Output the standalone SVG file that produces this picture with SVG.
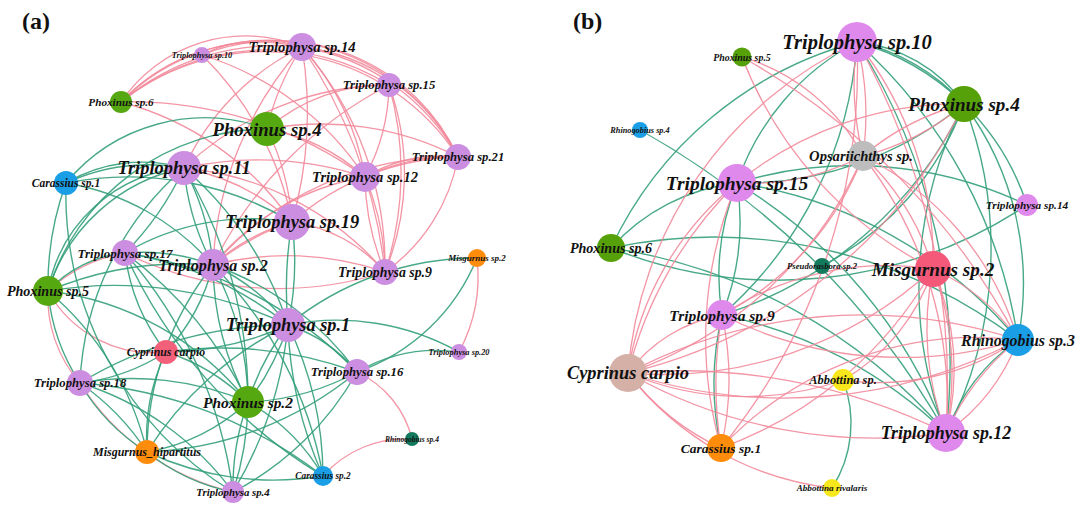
<svg xmlns="http://www.w3.org/2000/svg" width="1080" height="508" viewBox="0 0 1080 508">
<style>
.bg{fill:#fff}
.p{fill:none;stroke:#f28a9b;stroke-width:1.3;opacity:0.9}
.g{fill:none;stroke:#34a07a;stroke-width:1.4;opacity:0.9}
.lbl{font-family:"Liberation Serif","Times New Roman",serif;font-weight:bold;font-style:italic;fill:#111;text-anchor:middle;dominant-baseline:central}
.title{font-family:"Liberation Serif","Times New Roman",serif;font-weight:bold;font-size:24px;fill:#111}
.pu{fill:#cc8ee0}.gr{fill:#56a810}.bl{fill:#1a9ee6}.or{fill:#ff8c0a}.rd{fill:#f2607a}.tl{fill:#137a5e}
.pu2{fill:#e089ec}.gy{fill:#bdbdbd}.rd2{fill:#f5597a}.br{fill:#d4b0a6}.ye{fill:#f7e71b}.gr2{fill:#56a00a}
</style>
<rect class="bg" width="1080" height="508"/>
<text class="title" x="22" y="29">(a)</text>
<text class="title" x="573" y="29">(b)</text>
<g id="connectors-a">
<path class="p" d="M121,102 A150 150 0 0 1 302,47"/>
<path class="p" d="M121,102 A190 190 0 0 1 302,47"/>
<path class="p" d="M121,102 A240 240 0 0 1 302,47"/>
<path class="p" d="M121,102 A230 230 0 0 1 389,85"/>
<path class="p" d="M121,102 A210 210 0 0 1 458,157"/>
<path class="p" d="M121,102 A230 230 0 0 1 458,157"/>
<path class="p" d="M121,102 A400 400 0 0 1 365,177"/>
<path class="p" d="M121,102 A300 300 0 0 1 292,222"/>
<path class="p" d="M202,55 A130 130 0 0 1 302,47"/>
<path class="p" d="M202,55 A200 200 0 0 1 458,157"/>
<path class="p" d="M202,55 A320 320 0 0 1 292,222"/>
<path class="p" d="M202,55 A300 300 0 0 1 365,177"/>
<path class="p" d="M302,47 A200 200 0 0 1 458,157"/>
<path class="p" d="M302,47 A220 220 0 0 1 458,157"/>
<path class="p" d="M302,47 A260 260 0 0 1 365,177"/>
<path class="p" d="M302,47 A400 400 0 0 1 292,222"/>
<path class="p" d="M302,47 A330 330 0 0 1 385,272"/>
<path class="p" d="M302,47 A500 500 0 0 1 385,272"/>
<path class="p" d="M184,168 A250 250 0 0 1 302,47"/>
<path class="p" d="M267,129 A250 250 0 0 1 302,47"/>
<path class="p" d="M389,85 A200 200 0 0 1 365,177"/>
<path class="p" d="M389,85 A260 260 0 0 1 385,272"/>
<path class="p" d="M389,85 A320 320 0 0 1 385,272"/>
<path class="p" d="M184,168 A300 300 0 0 1 389,85"/>
<path class="p" d="M267,129 A180 180 0 0 1 389,85"/>
<path class="p" d="M365,177 A150 150 0 0 1 458,157"/>
<path class="p" d="M365,177 A200 200 0 0 1 458,157"/>
<path class="p" d="M292,222 A260 260 0 0 1 458,157"/>
<path class="p" d="M213,265 A320 320 0 0 1 458,157"/>
<path class="p" d="M267,129 A300 300 0 0 1 458,157"/>
<path class="p" d="M458,157 A180 180 0 0 1 385,272"/>
<path class="p" d="M184,168 A220 220 0 0 1 292,222"/>
<path class="p" d="M184,168 A350 350 0 0 1 365,177"/>
<path class="p" d="M385,272 A350 350 0 0 1 125,253"/>
<path class="p" d="M213,265 A300 300 0 0 1 385,272"/>
<path class="p" d="M292,222 A150 150 0 0 1 385,272"/>
<path class="p" d="M365,177 A250 250 0 0 1 385,272"/>
<path class="p" d="M385,272 A250 250 0 0 1 365,177"/>
<path class="p" d="M213,265 A250 250 0 0 1 365,177"/>
<path class="p" d="M213,265 A200 200 0 0 1 292,222"/>
<path class="p" d="M213,265 A260 260 0 0 1 292,222"/>
<path class="p" d="M213,265 A400 400 0 0 1 389,85"/>
<path class="p" d="M213,265 A350 350 0 0 1 302,47"/>
<path class="p" d="M267,129 A200 200 0 0 1 365,177"/>
<path class="p" d="M267,129 A250 250 0 0 1 292,222"/>
<path class="p" d="M184,168 A300 300 0 0 1 385,272"/>
<path class="p" d="M48,291 A150 150 0 0 1 125,253"/>
<path class="p" d="M166,352 A120 120 0 0 1 48,291"/>
<path class="p" d="M80,383 A130 130 0 0 1 48,291"/>
<path class="p" d="M233,492 A250 250 0 0 1 80,383"/>
<path class="p" d="M477,258 A160 160 0 0 1 459,352"/>
<path class="p" d="M357,372 A100 100 0 0 1 412,439"/>
<path class="p" d="M323,476 A110 110 0 0 1 412,439"/>
<path class="g" d="M66,183 A180 180 0 0 1 267,129"/>
<path class="g" d="M66,183 A200 200 0 0 1 184,168"/>
<path class="g" d="M66,183 A150 150 0 0 1 184,168"/>
<path class="g" d="M66,183 A250 250 0 0 1 213,265"/>
<path class="g" d="M66,183 A320 320 0 0 1 292,222"/>
<path class="g" d="M48,291 A300 300 0 0 1 66,183"/>
<path class="g" d="M233,492 A350 350 0 0 1 66,183"/>
<path class="g" d="M48,291 A150 150 0 0 1 184,168"/>
<path class="g" d="M48,291 A180 180 0 0 1 184,168"/>
<path class="g" d="M48,291 A230 230 0 0 1 267,129"/>
<path class="g" d="M184,168 A300 300 0 0 1 125,253"/>
<path class="g" d="M184,168 A250 250 0 0 1 213,265"/>
<path class="g" d="M213,265 A250 250 0 0 1 184,168"/>
<path class="g" d="M184,168 A350 350 0 0 1 288,325"/>
<path class="g" d="M184,168 A450 450 0 0 1 248,402"/>
<path class="g" d="M80,383 A300 300 0 0 1 184,168"/>
<path class="g" d="M48,291 A120 120 0 0 1 125,253"/>
<path class="g" d="M125,253 A200 200 0 0 1 213,265"/>
<path class="g" d="M125,253 A350 350 0 0 1 288,325"/>
<path class="g" d="M166,352 A200 200 0 0 1 125,253"/>
<path class="g" d="M125,253 A400 400 0 0 1 248,402"/>
<path class="g" d="M125,253 A450 450 0 0 1 233,492"/>
<path class="g" d="M125,253 A400 400 0 0 1 357,372"/>
<path class="g" d="M125,253 A250 250 0 0 1 292,222"/>
<path class="g" d="M48,291 A400 400 0 0 1 288,325"/>
<path class="g" d="M48,291 A350 350 0 0 1 213,265"/>
<path class="g" d="M48,291 A300 300 0 0 1 248,402"/>
<path class="g" d="M80,383 A200 200 0 0 1 48,291"/>
<path class="g" d="M48,291 A300 300 0 0 1 147,452"/>
<path class="g" d="M213,265 A200 200 0 0 1 288,325"/>
<path class="g" d="M213,265 A300 300 0 0 1 248,402"/>
<path class="g" d="M248,402 A300 300 0 0 1 213,265"/>
<path class="g" d="M213,265 A200 200 0 0 1 166,352"/>
<path class="g" d="M213,265 A300 300 0 0 1 357,372"/>
<path class="g" d="M147,452 A300 300 0 0 1 213,265"/>
<path class="g" d="M213,265 A400 400 0 0 1 323,476"/>
<path class="g" d="M292,222 A300 300 0 0 1 288,325"/>
<path class="g" d="M288,325 A400 400 0 0 1 292,222"/>
<path class="g" d="M288,325 A300 300 0 0 1 477,258"/>
<path class="g" d="M288,325 A250 250 0 0 1 459,352"/>
<path class="g" d="M288,325 A250 250 0 0 1 248,402"/>
<path class="g" d="M248,402 A250 250 0 0 1 288,325"/>
<path class="g" d="M288,325 A150 150 0 0 1 357,372"/>
<path class="g" d="M288,325 A400 400 0 0 1 233,492"/>
<path class="g" d="M288,325 A350 350 0 0 1 323,476"/>
<path class="g" d="M323,476 A400 400 0 0 1 288,325"/>
<path class="g" d="M288,325 A300 300 0 0 1 166,352"/>
<path class="g" d="M80,383 A400 400 0 0 1 288,325"/>
<path class="g" d="M147,452 A350 350 0 0 1 288,325"/>
<path class="g" d="M357,372 A160 160 0 0 1 459,352"/>
<path class="g" d="M477,258 A200 200 0 0 1 357,372"/>
<path class="g" d="M357,372 A250 250 0 0 1 248,402"/>
<path class="g" d="M357,372 A350 350 0 0 1 147,452"/>
<path class="g" d="M357,372 A300 300 0 0 1 233,492"/>
<path class="g" d="M166,352 A400 400 0 0 1 357,372"/>
<path class="g" d="M248,402 A200 200 0 0 1 147,452"/>
<path class="g" d="M233,492 A250 250 0 0 1 248,402"/>
<path class="g" d="M248,402 A300 300 0 0 1 233,492"/>
<path class="g" d="M248,402 A200 200 0 0 1 323,476"/>
<path class="g" d="M80,383 A300 300 0 0 1 248,402"/>
<path class="g" d="M166,352 A200 200 0 0 1 248,402"/>
<path class="g" d="M147,452 A200 200 0 0 1 80,383"/>
<path class="g" d="M80,383 A250 250 0 0 1 147,452"/>
<path class="g" d="M147,452 A200 200 0 0 1 166,352"/>
<path class="g" d="M233,492 A200 200 0 0 1 147,452"/>
<path class="g" d="M323,476 A300 300 0 0 1 147,452"/>
<path class="g" d="M80,383 A300 300 0 0 1 233,492"/>
<path class="g" d="M80,383 A450 450 0 0 1 323,476"/>
<path class="g" d="M166,352 A200 200 0 0 1 80,383"/>
<path class="g" d="M323,476 A500 500 0 0 1 125,253"/>
</g>
<g id="connectors-b">
<path class="g" d="M611,248 A380 380 0 0 1 857,42"/>
<path class="g" d="M640,130 A800 800 0 0 1 946,433"/>
<path class="g" d="M857,42 A150 150 0 0 1 964,104"/>
<path class="g" d="M857,42 A200 200 0 0 1 964,104"/>
<path class="g" d="M857,42 A250 250 0 0 1 1027,205"/>
<path class="g" d="M737,183 A250 250 0 0 1 857,42"/>
<path class="g" d="M857,42 A400 400 0 0 1 722,315"/>
<path class="g" d="M857,42 A600 600 0 0 1 946,433"/>
<path class="g" d="M857,42 A500 500 0 0 1 1018,340"/>
<path class="g" d="M964,104 A300 300 0 0 1 1018,340"/>
<path class="g" d="M964,104 A400 400 0 0 1 946,433"/>
<path class="g" d="M964,104 A350 350 0 0 1 737,183"/>
<path class="g" d="M964,104 A400 400 0 0 1 722,315"/>
<path class="g" d="M964,104 A300 300 0 0 1 822,266"/>
<path class="g" d="M737,183 A400 400 0 0 1 1027,205"/>
<path class="g" d="M1027,205 A450 450 0 0 1 611,248"/>
<path class="g" d="M611,248 A200 200 0 0 1 737,183"/>
<path class="g" d="M611,248 A500 500 0 0 1 1018,340"/>
<path class="g" d="M611,248 A550 550 0 0 1 946,433"/>
<path class="g" d="M737,183 A250 250 0 0 1 722,315"/>
<path class="g" d="M722,315 A250 250 0 0 1 737,183"/>
<path class="g" d="M721,448 A300 300 0 0 1 722,315"/>
<path class="g" d="M737,183 A500 500 0 0 1 946,433"/>
<path class="g" d="M737,183 A450 450 0 0 1 1018,340"/>
<path class="g" d="M843,380 A120 120 0 0 1 832,488"/>
<path class="g" d="M946,433 A400 400 0 0 1 964,104"/>
<path class="g" d="M946,433 A200 200 0 0 1 1018,340"/>
<path class="g" d="M722,315 A450 450 0 0 1 946,433"/>
<path class="p" d="M933,269 A400 400 0 0 1 742,57"/>
<path class="p" d="M742,57 A200 200 0 0 1 863,156"/>
<path class="p" d="M742,57 A700 700 0 0 1 1018,340"/>
<path class="p" d="M857,42 A300 300 0 0 1 863,156"/>
<path class="p" d="M863,156 A300 300 0 0 1 857,42"/>
<path class="p" d="M628,373 A400 400 0 0 1 857,42"/>
<path class="p" d="M857,42 A350 350 0 0 1 933,269"/>
<path class="p" d="M857,42 A600 600 0 0 1 721,448"/>
<path class="p" d="M857,42 A700 700 0 0 1 946,433"/>
<path class="p" d="M863,156 A250 250 0 0 1 737,183"/>
<path class="p" d="M863,156 A300 300 0 0 1 722,315"/>
<path class="p" d="M863,156 A250 250 0 0 1 933,269"/>
<path class="p" d="M863,156 A400 400 0 0 1 628,373"/>
<path class="p" d="M863,156 A400 400 0 0 1 946,433"/>
<path class="p" d="M863,156 A300 300 0 0 1 1018,340"/>
<path class="p" d="M964,104 A250 250 0 0 1 863,156"/>
<path class="p" d="M863,156 A250 250 0 0 1 964,104"/>
<path class="p" d="M737,183 A350 350 0 0 1 964,104"/>
<path class="p" d="M964,104 A500 500 0 0 1 628,373"/>
<path class="p" d="M933,269 A250 250 0 0 1 946,433"/>
<path class="p" d="M933,269 A300 300 0 0 1 946,433"/>
<path class="p" d="M946,433 A300 300 0 0 1 933,269"/>
<path class="p" d="M933,269 A400 400 0 0 1 628,373"/>
<path class="p" d="M722,315 A300 300 0 0 1 933,269"/>
<path class="p" d="M933,269 A400 400 0 0 1 721,448"/>
<path class="p" d="M933,269 A200 200 0 0 1 843,380"/>
<path class="p" d="M933,269 A200 200 0 0 1 1018,340"/>
<path class="p" d="M1018,340 A200 200 0 0 1 946,433"/>
<path class="p" d="M946,433 A250 250 0 0 1 1018,340"/>
<path class="p" d="M1018,340 A500 500 0 0 1 628,373"/>
<path class="p" d="M628,373 A500 500 0 0 1 1018,340"/>
<path class="p" d="M1018,340 A400 400 0 0 1 722,315"/>
<path class="p" d="M1018,340 A250 250 0 0 1 843,380"/>
<path class="p" d="M721,448 A350 350 0 0 1 1018,340"/>
<path class="p" d="M628,373 A150 150 0 0 1 722,315"/>
<path class="p" d="M721,448 A250 250 0 0 1 628,373"/>
<path class="p" d="M832,488 A300 300 0 0 1 628,373"/>
<path class="p" d="M628,373 A600 600 0 0 1 946,433"/>
<path class="p" d="M946,433 A500 500 0 0 1 628,373"/>
<path class="p" d="M628,373 A300 300 0 0 1 737,183"/>
<path class="p" d="M628,373 A400 400 0 0 1 737,183"/>
<path class="p" d="M722,315 A300 300 0 0 1 721,448"/>
<path class="p" d="M721,448 A400 400 0 0 1 722,315"/>
<path class="p" d="M721,448 A400 400 0 0 1 737,183"/>
<path class="p" d="M843,380 A300 300 0 0 1 628,373"/>
</g>
<g id="a-triplophysa-sp10"><circle class="pu" cx="202" cy="55" r="8"/><text class="lbl" x="202" y="55" font-size="8.3">Triplophysa sp.10</text></g>
<g id="a-triplophysa-sp14"><circle class="pu" cx="302" cy="47" r="14"/><text class="lbl" x="302" y="47" font-size="14.7">Triplophysa sp.14</text></g>
<g id="a-phoxinus-sp6"><circle class="gr" cx="121" cy="102" r="11"/><text class="lbl" x="121" y="102" font-size="11.2">Phoxinus sp.6</text></g>
<g id="a-triplophysa-sp15"><circle class="pu" cx="389" cy="85" r="12"/><text class="lbl" x="389" y="85" font-size="12.7">Triplophysa sp.15</text></g>
<g id="a-phoxinus-sp4"><circle class="gr" cx="267" cy="129" r="17"/><text class="lbl" x="267" y="129" font-size="18.7">Phoxinus sp.4</text></g>
<g id="a-triplophysa-sp21"><circle class="pu" cx="458" cy="157" r="13"/><text class="lbl" x="458" y="157" font-size="12.7">Triplophysa sp.21</text></g>
<g id="a-triplophysa-sp11"><circle class="pu" cx="184" cy="168" r="17"/><text class="lbl" x="184" y="168" font-size="18.4">Triplophysa sp.11</text></g>
<g id="a-carassius-sp1"><circle class="bl" cx="66" cy="183" r="12"/><text class="lbl" x="66" y="183" font-size="11.5">Carassius sp.1</text></g>
<g id="a-triplophysa-sp12"><circle class="pu" cx="365" cy="177" r="15"/><text class="lbl" x="365" y="177" font-size="14.5">Triplophysa sp.12</text></g>
<g id="a-triplophysa-sp19"><circle class="pu" cx="292" cy="222" r="18"/><text class="lbl" x="292" y="222" font-size="18.4">Triplophysa sp.19</text></g>
<g id="a-triplophysa-sp17"><circle class="pu" cx="125" cy="253" r="13"/><text class="lbl" x="125" y="253" font-size="13">Triplophysa sp.17</text></g>
<g id="a-triplophysa-sp2"><circle class="pu" cx="213" cy="265" r="16"/><text class="lbl" x="213" y="265" font-size="16.1">Triplophysa sp.2</text></g>
<g id="a-triplophysa-sp9"><circle class="pu" cx="385" cy="272" r="13"/><text class="lbl" x="385" y="272" font-size="13.8">Triplophysa sp.9</text></g>
<g id="a-misgurnus-sp2"><circle class="or" cx="477" cy="258" r="9"/><text class="lbl" x="477" y="258" font-size="9">Misgurnus sp.2</text></g>
<g id="a-phoxinus-sp5"><circle class="gr" cx="48" cy="291" r="15"/><text class="lbl" x="48" y="291" font-size="14.1">Phoxinus sp.5</text></g>
<g id="a-triplophysa-sp1"><circle class="pu" cx="288" cy="325" r="17"/><text class="lbl" x="288" y="325" font-size="18.3">Triplophysa sp.1</text></g>
<g id="a-cyprinus-carpio"><circle class="rd" cx="166" cy="352" r="12"/><text class="lbl" x="166" y="352" font-size="11.8">Cyprinus carpio</text></g>
<g id="a-triplophysa-sp20"><circle class="pu" cx="459" cy="352" r="8"/><text class="lbl" x="459" y="352" font-size="8.4">Triplophysa sp.20</text></g>
<g id="a-triplophysa-sp16"><circle class="pu" cx="357" cy="372" r="13"/><text class="lbl" x="357" y="372" font-size="12.7">Triplophysa sp.16</text></g>
<g id="a-triplophysa-sp18"><circle class="pu" cx="80" cy="383" r="13"/><text class="lbl" x="80" y="383" font-size="12.7">Triplophysa sp.18</text></g>
<g id="a-phoxinus-sp2"><circle class="gr" cx="248" cy="402" r="16"/><text class="lbl" x="248" y="402" font-size="15.4">Phoxinus sp.2</text></g>
<g id="a-rhinogobius-sp4"><circle class="tl" cx="412" cy="439" r="7"/><text class="lbl" x="412" y="439" font-size="7.5">Rhinogobius sp.4</text></g>
<g id="a-misgurnus-hipartitus"><circle class="or" cx="147" cy="452" r="12"/><text class="lbl" x="147" y="452" font-size="12">Misgurnus_hipartitus</text></g>
<g id="a-carassius-sp2"><circle class="bl" cx="323" cy="476" r="10"/><text class="lbl" x="323" y="476" font-size="9.3">Carassius sp.2</text></g>
<g id="a-triplophysa-sp4"><circle class="pu" cx="233" cy="492" r="11"/><text class="lbl" x="233" y="492" font-size="10.8">Triplophysa sp.4</text></g>
<g id="b-phoxinus-sp5"><circle class="gr2" cx="742" cy="57" r="9.5"/><text class="lbl" x="742" y="57" font-size="9.9">Phoxinus sp.5</text></g>
<g id="b-triplophysa-sp10"><circle class="pu2" cx="857" cy="42" r="20"/><text class="lbl" x="857" y="42" font-size="20.5">Triplophysa sp.10</text></g>
<g id="b-rhinogobius-sp4"><circle class="bl" cx="640" cy="130" r="8"/><text class="lbl" x="640" y="130" font-size="8.3">Rhinogobius sp.4</text></g>
<g id="b-phoxinus-sp4"><circle class="gr2" cx="964" cy="104" r="18"/><text class="lbl" x="964" y="104" font-size="19.1">Phoxinus sp.4</text></g>
<g id="b-opsariichthys-sp"><circle class="gy" cx="863" cy="156" r="15"/><text class="lbl" x="861" y="156" font-size="14.6">Opsariichthys sp.</text></g>
<g id="b-triplophysa-sp15"><circle class="pu2" cx="737" cy="183" r="19"/><text class="lbl" x="737" y="183" font-size="19.5">Triplophysa sp.15</text></g>
<g id="b-triplophysa-sp14"><circle class="pu2" cx="1027" cy="205" r="11"/><text class="lbl" x="1027" y="205" font-size="11.3">Triplophysa sp.14</text></g>
<g id="b-phoxinus-sp6"><circle class="gr2" cx="611" cy="248" r="14"/><text class="lbl" x="611" y="248" font-size="14.1">Phoxinus sp.6</text></g>
<g id="b-pseudorasbora-sp2"><circle class="tl" cx="822" cy="266" r="8"/><text class="lbl" x="822" y="266" font-size="8.7">Pseudorasbora sp.2</text></g>
<g id="b-misgurnus-sp2"><circle class="rd2" cx="933" cy="269" r="18"/><text class="lbl" x="933" y="269" font-size="19.2">Misgurnus sp.2</text></g>
<g id="b-triplophysa-sp9"><circle class="pu2" cx="722" cy="315" r="15"/><text class="lbl" x="722" y="315" font-size="15.5">Triplophysa sp.9</text></g>
<g id="b-rhinogobius-sp3"><circle class="bl" cx="1018" cy="340" r="16"/><text class="lbl" x="1018" y="340" font-size="15.9">Rhinogobius sp.3</text></g>
<g id="b-cyprinus-carpio"><circle class="br" cx="628" cy="373" r="19"/><text class="lbl" x="628" y="373" font-size="18.4">Cyprinus carpio</text></g>
<g id="b-abbottina-sp"><circle class="ye" cx="843" cy="380" r="11"/><text class="lbl" x="843" y="380" font-size="12.4">Abbottina sp.</text></g>
<g id="b-triplophysa-sp12"><circle class="pu2" cx="946" cy="433" r="19"/><text class="lbl" x="946" y="433" font-size="17.9">Triplophysa sp.12</text></g>
<g id="b-carassius-sp1"><circle class="or" cx="721" cy="448" r="14"/><text class="lbl" x="721" y="448" font-size="13.5">Carassius sp.1</text></g>
<g id="b-abbottina-rivalaris"><circle class="ye" cx="832" cy="488" r="9"/><text class="lbl" x="832" y="488" font-size="9.1">Abbottina rivalaris</text></g>
</svg>
